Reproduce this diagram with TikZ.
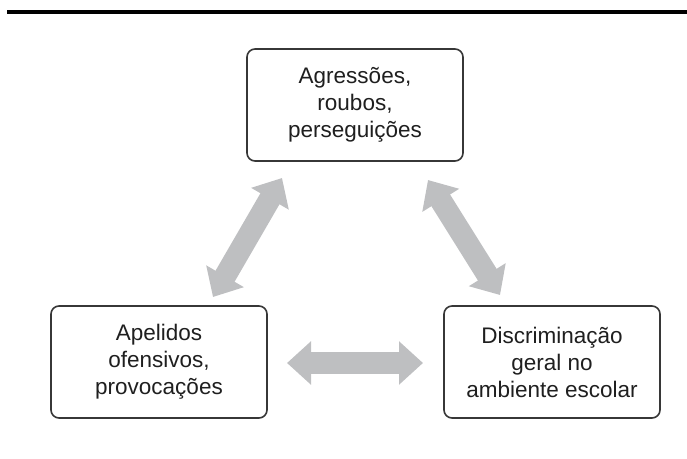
\documentclass[tikz,border=0pt]{standalone}
\usepackage{fontspec}
\setmainfont{Liberation Sans}
\usetikzlibrary{arrows.meta}
\definecolor{arrowgray}{RGB}{190,191,193}
\definecolor{boxline}{RGB}{55,55,55}
\tikzset{
  topic/.style = {rectangle, rounded corners=8pt, draw=boxline, line width=1.6pt,
                  fill=white, minimum width=216pt, minimum height=112pt,
                  align=center, text=black!88, font=\fontsize{22.5}{27}\selectfont},
  link/.style  = {{Triangle[width=42pt,length=24pt]}-{Triangle[width=42pt,length=24pt]},
                  line width=22pt, draw=arrowgray},
}

\begin{document}
\begin{tikzpicture}[x=1pt, y=-1pt]
      \useasboundingbox (0,0) rectangle (687,458);
      \draw[line width=4pt] (7,12) -- (687,12);
      \node[topic] (agress) at (355, 105) {Agressões,\\roubos,\\perseguições};
      \node[topic] (apel)   at (159, 362) {Apelidos\\ofensivos,\\provocações};
      \node[topic] (discr)  at (552, 362) {Discriminação\\geral no\\ambiente escolar};
      \coordinate (l1) at (213, 297);
      \coordinate (l2) at (282, 178);
      \coordinate (r1) at (428, 180);
      \coordinate (r2) at (500, 295);
      \coordinate (h1) at (287, 363);
      \coordinate (h2) at (423, 363);
      \draw[link] (l1) -- (l2);
      \draw[link] (r1) -- (r2);
      \draw[link] (h1) -- (h2);
    \end{tikzpicture}
\end{document}
